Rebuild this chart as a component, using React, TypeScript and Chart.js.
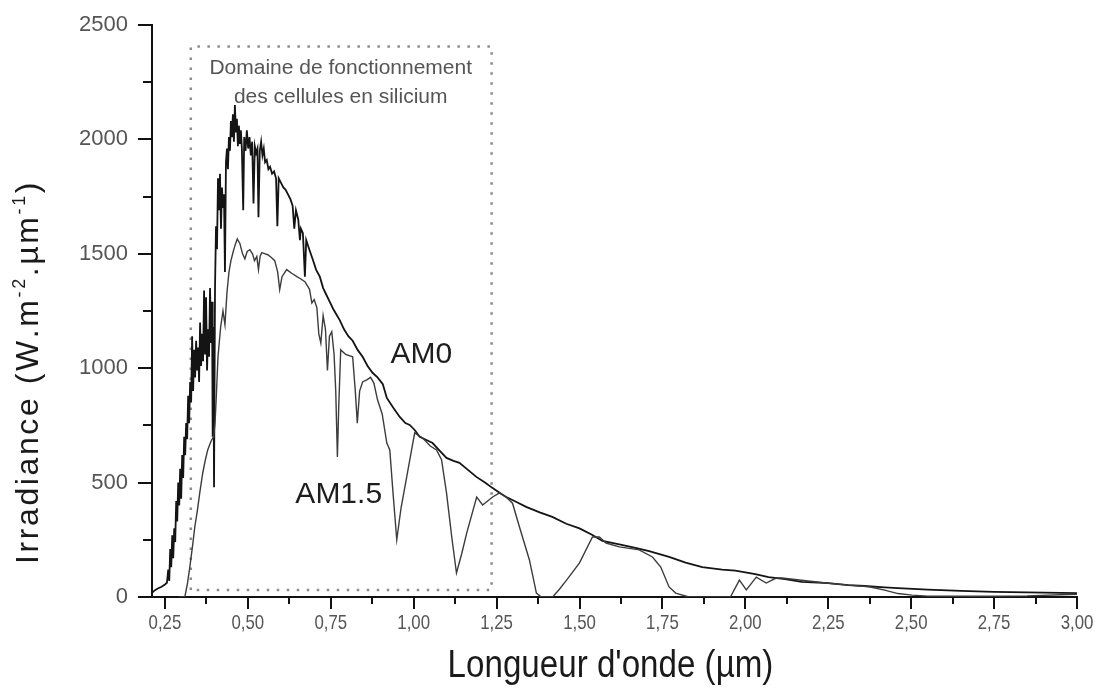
import React, { useEffect, useRef } from 'react';
import { Chart, registerables } from 'chart.js';

Chart.register(...registerables);

// ---------- DATA ----------
const am0Wavelength = [
  0.211, 0.22, 0.23, 0.24, 0.25, 0.256, 0.26, 0.263, 0.266, 0.269, 0.272, 0.275, 0.278, 0.281, 0.284, 0.287,
  0.29, 0.293, 0.296, 0.299, 0.302, 0.305, 0.308, 0.311, 0.314, 0.317, 0.32, 0.323, 0.326, 0.329, 0.332, 0.335,
  0.338, 0.341, 0.344, 0.347, 0.35, 0.353, 0.356, 0.359, 0.362, 0.365, 0.368, 0.371, 0.374, 0.377, 0.38, 0.383,
  0.386, 0.389, 0.392, 0.394, 0.396, 0.398, 0.401, 0.404, 0.407, 0.41, 0.413, 0.416, 0.419, 0.422, 0.425, 0.428,
  0.431, 0.434, 0.437, 0.44, 0.443, 0.446, 0.449, 0.452, 0.455, 0.458, 0.461, 0.464, 0.467, 0.47, 0.473, 0.476,
  0.479, 0.482, 0.486, 0.489, 0.493, 0.497, 0.501, 0.505, 0.509, 0.513, 0.517, 0.521, 0.525, 0.529, 0.532, 0.536,
  0.54, 0.544, 0.548, 0.552, 0.557, 0.562, 0.567, 0.573, 0.579, 0.585, 0.589, 0.593, 0.6, 0.607, 0.614, 0.621,
  0.628, 0.635, 0.64, 0.645, 0.652, 0.657, 0.66, 0.666, 0.672, 0.676, 0.685, 0.696, 0.706, 0.717, 0.727, 0.737,
  0.747, 0.757, 0.767, 0.777, 0.79, 0.803, 0.816, 0.831, 0.846, 0.861, 0.876, 0.891, 0.907, 0.919, 0.937, 0.958,
  0.975, 0.988, 1.003, 1.018, 1.04, 1.057, 1.078, 1.099, 1.12, 1.138, 1.16, 1.189, 1.215, 1.237, 1.26, 1.279,
  1.31, 1.339, 1.38, 1.418, 1.46, 1.5, 1.539, 1.569, 1.62, 1.672, 1.71, 1.77, 1.82, 1.87, 1.93, 1.97,
  2.03, 2.07, 2.12, 2.17, 2.25, 2.31, 2.36, 2.42, 2.46, 2.55, 2.65, 2.75, 2.85, 2.95, 3.0,
];
const am0Irradiance = [
  18, 30, 38, 45, 55, 62, 120, 70, 210, 130, 270, 170, 300, 240, 420, 330,
  500, 400, 560, 430, 620, 520, 700, 620, 760, 690, 880, 760, 940, 850, 1140, 900,
  1080, 960, 1120, 990, 1090, 940, 1200, 1010, 1150, 1030, 1340, 1060, 1310, 990, 1170, 1050,
  1350, 1110, 1290, 700, 1180, 480, 1350, 1620, 1520, 1830, 1690, 1850, 1610, 1790, 1700, 1760,
  1420, 1900, 1960, 1870, 2010, 1950, 2080, 2010, 2110, 1990, 2150, 2030, 2090, 1970, 2060, 1980,
  2040, 1960, 1690, 2010, 1950, 2040, 1960, 2010, 1930, 1990, 1720, 1970, 1940, 1960, 1660, 1950,
  1990, 1930, 1960, 1900, 1910, 1870, 1880, 1850, 1860, 1830, 1620, 1830, 1810, 1790, 1780, 1760,
  1740, 1710, 1610, 1690, 1650, 1560, 1610, 1590, 1400, 1560, 1520, 1474, 1430, 1400, 1350, 1320,
  1290, 1260, 1235, 1210, 1170, 1140, 1120, 1080, 1050, 1010, 980, 960, 930, 870, 830, 787,
  760, 752, 730, 700, 685, 673, 640, 608, 595, 586, 560, 525, 500, 477, 455, 437,
  415, 394, 370, 350, 320, 300, 271, 245, 230, 214, 200, 175, 150, 131, 120, 115,
  100, 87, 78, 66, 61, 52, 48, 42, 39, 32, 27, 22, 20, 18, 17,
];

const am15Wavelength = [
  0.29, 0.31, 0.318, 0.325, 0.333, 0.34, 0.348, 0.355, 0.364, 0.372, 0.379, 0.386, 0.391, 0.397, 0.401, 0.405,
  0.41, 0.418, 0.425, 0.431, 0.437, 0.443, 0.449, 0.456, 0.462, 0.468, 0.476, 0.484, 0.491, 0.498, 0.506, 0.514,
  0.52, 0.527, 0.532, 0.537, 0.542, 0.552, 0.56, 0.57, 0.581, 0.59, 0.596, 0.603, 0.617, 0.632, 0.648, 0.66,
  0.672, 0.686, 0.693, 0.7, 0.708, 0.714, 0.72, 0.727, 0.734, 0.74, 0.746, 0.753, 0.76, 0.765, 0.77, 0.774,
  0.78, 0.795, 0.816, 0.824, 0.83, 0.837, 0.846, 0.86, 0.87, 0.88, 0.891, 0.905, 0.919, 0.928, 0.937, 0.949,
  0.962, 0.979, 1.003, 1.027, 1.05, 1.069, 1.084, 1.099, 1.115, 1.129, 1.145, 1.16, 1.19, 1.208, 1.238, 1.259,
  1.28, 1.298, 1.319, 1.349, 1.37, 1.385, 1.419, 1.44, 1.461, 1.5, 1.539, 1.56, 1.58, 1.62, 1.68, 1.72,
  1.745, 1.77, 1.79, 1.83, 1.955, 1.982, 2.003, 2.033, 2.063, 2.093, 2.111, 2.163, 2.25, 2.313, 2.373, 2.42,
  2.46, 2.503, 2.55, 2.7, 2.85, 2.95, 3.0,
];
const am15Irradiance = [
  0, 0, 60, 131, 220, 306, 380, 455, 542, 600, 643, 670, 687, 700, 760, 880,
  1050, 1180, 1250, 1190, 1330, 1420, 1470, 1510, 1540, 1565, 1545, 1500, 1478, 1510, 1518, 1500,
  1470, 1488, 1431, 1490, 1505, 1500, 1496, 1485, 1470, 1420, 1343, 1400, 1431, 1415, 1400, 1390,
  1378, 1345, 1285, 1300, 1265, 1150, 1110, 1230, 1170, 990, 1140, 1160, 1060, 900, 612, 830,
  1080, 1060, 1050, 900, 760, 900, 940, 950, 960, 935, 862, 800, 673, 643, 468, 250,
  390, 525, 717, 695, 660, 643, 600, 455, 260, 105, 190, 280, 437, 402, 437, 455,
  435, 410, 306, 162, 17, 0, 0, 35, 74, 149, 262, 262, 236, 219, 206, 175,
  131, 44, 17, 0, 0, 74, 31, 87, 61, 83, 83, 74, 60, 52, 45, 30,
  15, 8, 4, 3, 5, 10, 12,
];

const xTickValues = [0.25, 0.5, 0.75, 1.0, 1.25, 1.5, 1.75, 2.0, 2.25, 2.5, 2.75, 3.0];
const xTickLabels = ['0,25', '0,50', '0,75', '1,00', '1,25', '1,50', '1,75', '2,00', '2,25', '2,50', '2,75', '3,00'];
const xMinorTicks = [0.375, 0.625, 0.875, 1.125, 1.375, 1.625, 1.875, 2.125, 2.375, 2.625, 2.875];
const yTickValues = [0, 500, 1000, 1500, 2000, 2500];
const yTickLabels = ['0', '500', '1000', '1500', '2000', '2500'];
const yMinorTicks = [250, 750, 1250, 1750, 2250];

const seriesNames = ['AM0', 'AM1.5'];

// annotation anchors (data units)
const labelX = [1.023, 0.774];
const labelY = [1060, 446];
const boxXRange = [0.328, 1.235];
const boxYRange = [31, 2406];
const boxLines = ['Domaine de fonctionnement', 'des cellules en silicium'];
const boxLineX = 0.78;
const boxLineY = [2310, 2183];

const xTitle = "Longueur d'onde (µm)";

const SANS = "'Liberation Sans', Arial, Helvetica, sans-serif";

function drawCondensed(ctx: CanvasRenderingContext2D, text: string, x: number, y: number, sx: number) {
  ctx.save();
  ctx.translate(x, y);
  ctx.scale(sx, 1);
  ctx.fillText(text, 0, 0);
  ctx.restore();
}

const decorPlugin = {
  id: 'decor',
  beforeDatasetsDraw(chart: any) {
    const { ctx } = chart;
    const x = chart.scales.x;
    const y = chart.scales.y;
    const l = x.getPixelForValue(boxXRange[0]);
    const r = x.getPixelForValue(boxXRange[1]);
    const t = y.getPixelForValue(boxYRange[1]);
    const b = y.getPixelForValue(boxYRange[0]);
    ctx.save();
    ctx.strokeStyle = '#8c8c8c';
    ctx.lineWidth = 2.5;
    ctx.setLineDash([2.5, 7.5]);
    ctx.beginPath();
    ctx.moveTo(l, b);
    ctx.lineTo(l, t);
    ctx.lineTo(r, t);
    ctx.lineTo(r, b);
    ctx.lineTo(l, b);
    ctx.stroke();
    ctx.setLineDash([]);
    ctx.fillStyle = '#555';
    ctx.font = `21px ${SANS}`;
    ctx.textAlign = 'center';
    ctx.textBaseline = 'middle';
    boxLines.forEach((s, i) => {
      ctx.fillText(s, x.getPixelForValue(boxLineX), y.getPixelForValue(boxLineY[i]));
    });
    ctx.restore();
  },
  afterDraw(chart: any) {
    const { ctx, chartArea } = chart;
    const x = chart.scales.x;
    const y = chart.scales.y;
    ctx.save();
    // minor ticks
    ctx.strokeStyle = '#111';
    ctx.lineWidth = 2;
    ctx.beginPath();
    xMinorTicks.forEach((v) => {
      const px = Math.round(x.getPixelForValue(v));
      ctx.moveTo(px, chartArea.bottom);
      ctx.lineTo(px, chartArea.bottom + 7);
    });
    yMinorTicks.forEach((v) => {
      const py = Math.round(y.getPixelForValue(v));
      ctx.moveTo(chartArea.left, py);
      ctx.lineTo(chartArea.left - 9, py);
    });
    ctx.stroke();

    // x tick labels (condensed)
    ctx.fillStyle = '#555';
    ctx.font = `21px ${SANS}`;
    ctx.textAlign = 'center';
    ctx.textBaseline = 'middle';
    xTickValues.forEach((v, i) => {
      drawCondensed(ctx, xTickLabels[i], x.getPixelForValue(v), chartArea.bottom + 26, 0.8);
    });

    // series labels
    ctx.fillStyle = '#1e1e1e';
    ctx.font = `30px ${SANS}`;
    seriesNames.forEach((s, i) => {
      ctx.fillText(s, x.getPixelForValue(labelX[i]), y.getPixelForValue(labelY[i]));
    });

    // x title
    ctx.font = `39px ${SANS}`;
    ctx.fillStyle = '#1a1a1a';
    ctx.textBaseline = 'alphabetic';
    drawCondensed(ctx, xTitle, (chartArea.left + chartArea.right) / 2 - 4, 677, 0.85);

    // y title with superscripts
    const big = `32px ${SANS}`;
    const small = `18px ${SANS}`;
    const parts: [string, boolean][] = [
      ['Irradiance (W.m', false],
      ['-2', true],
      ['.µm', false],
      ['-1', true],
      [')', false],
    ];
    const ls = 2.6;
    let total = 0;
    parts.forEach(([s, sup]) => {
      ctx.font = sup ? small : big;
      for (const ch of s) total += ctx.measureText(ch).width + ls;
    });
    ctx.translate(38, 372);
    ctx.rotate(-Math.PI / 2);
    let cx = -total / 2;
    ctx.textAlign = 'left';
    ctx.textBaseline = 'alphabetic';
    parts.forEach(([s, sup]) => {
      ctx.font = sup ? small : big;
      for (const ch of s) {
        ctx.fillText(ch, cx, sup ? -13 : 0);
        cx += ctx.measureText(ch).width + ls;
      }
    });
    ctx.restore();
  },
};

export default function App() {
  const canvasRef = useRef<HTMLCanvasElement | null>(null);

  useEffect(() => {
    document.body.style.margin = '0';
    const canvas = canvasRef.current;
    if (!canvas) return;
    const am0 = am0Wavelength.map((w, i) => ({ x: w, y: am0Irradiance[i] }));
    const am15 = am15Wavelength.map((w, i) => ({ x: w, y: am15Irradiance[i] }));
    const chart = new Chart(canvas, {
      type: 'line',
      data: {
        datasets: [
          {
            label: seriesNames[1],
            data: am15,
            borderColor: '#3c3c3c',
            borderWidth: 1.4,
            pointRadius: 0,
            tension: 0,
            fill: false,
          },
          {
            label: seriesNames[0],
            data: am0,
            borderColor: '#141414',
            borderWidth: 1.8,
            pointRadius: 0,
            tension: 0,
            fill: false,
          },
        ],
      },
      options: {
        animation: false,
        responsive: true,
        maintainAspectRatio: false,
        layout: { padding: { top: 25, right: 31, left: 0, bottom: 0 } },
        plugins: { legend: { display: false }, tooltip: { enabled: false } },
        scales: {
          x: {
            type: 'linear',
            min: 0.211,
            max: 3.0,
            afterFit: (s: any) => {
              s.height = 94;
            },
            afterBuildTicks: (s: any) => {
              s.ticks = xTickValues.map((v) => ({ value: v }));
            },
            border: { display: true, color: '#111', width: 2 },
            grid: { drawOnChartArea: false, drawTicks: true, tickLength: 12, color: '#111', lineWidth: 2 },
            ticks: { display: false },
          },
          y: {
            type: 'linear',
            min: 0,
            max: 2500,
            afterFit: (s: any) => {
              s.width = 152;
            },
            afterBuildTicks: (s: any) => {
              s.ticks = yTickValues.map((v) => ({ value: v }));
            },
            border: { display: true, color: '#111', width: 2 },
            grid: { drawOnChartArea: false, drawTicks: true, tickLength: 14, color: '#111', lineWidth: 2 },
            ticks: {
              padding: 10,
              color: '#555',
              font: { family: SANS, size: 22 },
              callback: (v: any) => {
                const i = yTickValues.indexOf(Number(v));
                return i >= 0 ? yTickLabels[i] : '';
              },
            },
          },
        },
      },
      plugins: [decorPlugin],
    });
    return () => chart.destroy();
  }, []);

  return (
    <div style={{ width: 1108, height: 691, position: 'relative', background: '#fff' }}>
      <canvas ref={canvasRef} />
    </div>
  );
}
